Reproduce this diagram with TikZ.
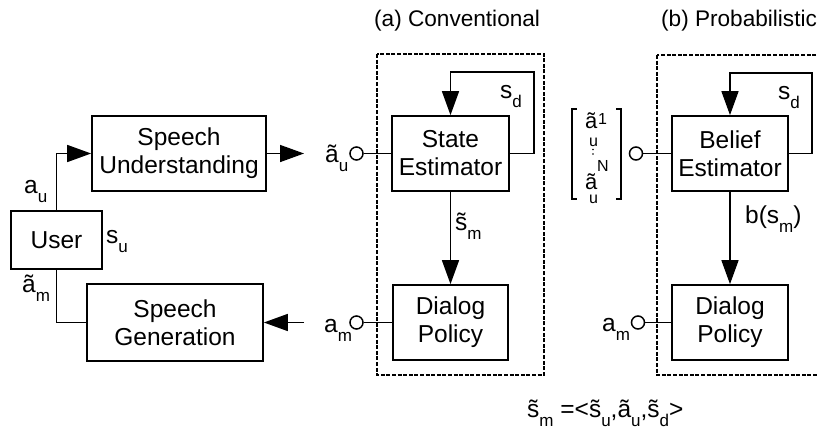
\documentclass[tikz,border=0pt]{standalone}
\usepackage{fontspec}
\setmainfont{Liberation Sans}
\usetikzlibrary{arrows.meta}
\newcommand\lsub[1]{\raisebox{-9pt}{\fontsize{17}{17}\selectfont #1}}
\begin{document}
\begin{tikzpicture}[x=1pt,y=-1pt,
  blk/.style={draw, line width=1.7pt, align=center, font=\fontsize{24.5}{28}\selectfont, inner sep=0pt},
  lbl/.style={anchor=base west, inner sep=0pt, font=\fontsize{24.5}{28}\selectfont},
  ttl/.style={anchor=base west, inner sep=0pt, font=\fontsize{22.6}{26}\selectfont},
  sml/.style={anchor=base west, inner sep=0pt, font=\fontsize{16}{16}\selectfont},
  mid/.style={anchor=base west, inner sep=0pt, font=\fontsize{22}{26}\selectfont},
  conn/.style={line width=1.5pt},
  arr/.style={conn, -{Triangle[length=24pt,width=17pt]}},
  port/.style={circle, draw, line width=1.5pt, minimum size=13pt, inner sep=0pt, fill=white},
  frame/.style={line width=2.6pt, dash pattern=on 4pt off 1.6pt},
  brk/.style={line width=1.3pt}
]
\useasboundingbox (0,0) rectangle (817,431);

% frames
\draw[frame] (377,54) rectangle (544,375);
\draw[frame] (657,55) rectangle (845,375);

% titles
\node[ttl] (ta) at (374,27) {(a) Conventional};
\node[ttl] (tb) at (661,27) {(b) Probabilistic};

% left blocks
\node[blk, minimum width=174pt, minimum height=75pt] (su) at (179,153.5) {Speech\\Understanding};
\node[blk, minimum width=91pt, minimum height=58pt] (user) at (56.5,240) {User};
\node[blk, minimum width=176pt, minimum height=77pt] (sg) at (175,322.5) {Speech\\Generation};

% conventional blocks
\node[blk, minimum width=117pt, minimum height=75pt] (se) at (450.5,153.5) {State\\Estimator};
\node[blk, minimum width=115pt, minimum height=75pt] (dp) at (450.5,322.5) {Dialog\\Policy};

% probabilistic blocks
\node[blk, minimum width=116pt, minimum height=75pt] (be) at (730,153.5) {Belief\\Estimator};
\node[blk, minimum width=116pt, minimum height=75pt] (dpb) at (730,322.5) {Dialog\\Policy};

% user connections
\draw[arr] (user.north) |- (su.west);
\draw[conn] (user.south) |- (sg.west);
\node[lbl] (lau) at (24,193) {a\lsub{u}};
\node[lbl] (lsu) at (106,243) {s\lsub{u}};
\node[lbl] (lam) at (22,292) {ã\lsub{m}};

% middle arrows
\coordinate (tipa) at (304,153.5);
\draw[arr] (su.east) -- (tipa);
\coordinate (taila) at (304,322.5);
\draw[arr] (taila) -- (sg.east);

% conventional ports
\node[port] (pu) at (356.5,153.5) {};
\draw[conn] (pu.east) -- (se.west);
\node[port] (pm) at (356.5,322.5) {};
\draw[conn] (pm.east) -- (dp.west);
\node[lbl] (lpu) at (325,162) {ã\lsub{u}};
\node[lbl] (lpm) at (324,332) {a\lsub{m}};

% conventional loop and arrow
\coordinate (la1) at (534,72);
\draw[arr] (se.east) -| (la1) -| (se.north);
\node[lbl] (lsd) at (500,98) {s\lsub{d}};
\draw[arr] (se.south) -- (dp.north);
\node[lbl] (lsm) at (455,230) {\~s\lsub{m}};

% probabilistic ports
\node[port] (pbu) at (636,153.5) {};
\draw[conn] (pbu.east) -- (be.west);
\node[port] (pbm) at (638,322.5) {};
\draw[conn] (pbm.east) -- (dpb.west);
\node[lbl] (lpbm) at (602,331) {a\lsub{m}};

% probabilistic loop and arrow
\coordinate (lb1) at (812,73);
\draw[arr] (be.east) -| (lb1) -| (be.north);
\node[lbl] (lsdb) at (778,99) {s\lsub{d}};
\draw[arr] (be.south) -- (dpb.north);
\node[lbl] (lbs) at (745,223) {b(s\lsub{m})};

% bracket vector
\draw[brk] (577,109) -- (572,109) -- (572,199) -- (577,199);
\draw[brk] (616,109) -- (621,109) -- (621,199) -- (616,199);
\node[mid] (v1) at (585,128) {ã};
\node[sml] (v1s) at (598,124) {1};
\node[sml] (v1u) at (589,146) {u};
\fill (593,149.5) circle (0.9pt);
\fill (593,154) circle (0.9pt);
\node[mid] (v2) at (585,189) {ã};
\node[sml] (v2s) at (597,171) {N};
\node[sml] (v2u) at (589,203) {u};

% formula
\node[lbl] (form) at (527,417) {\~s\lsub{m} =<\~s\lsub{u},ã\lsub{u},\~s\lsub{d}>};
\end{tikzpicture}
\end{document}
